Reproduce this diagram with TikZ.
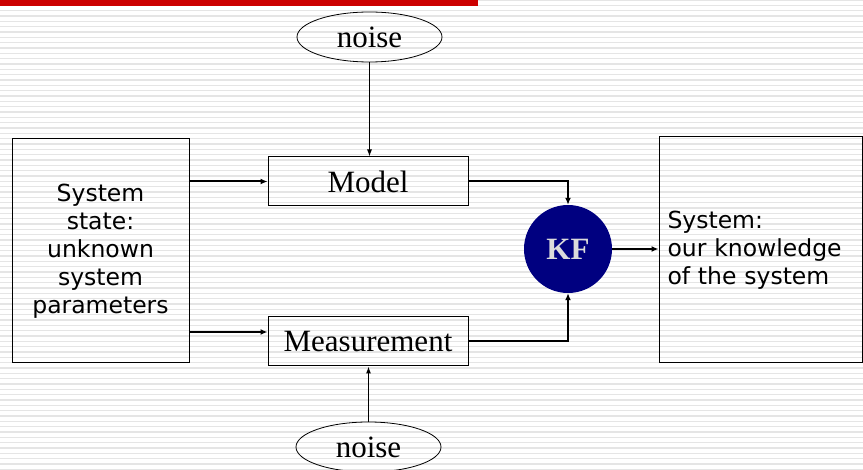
\documentclass[tikz,border=0pt]{standalone}
\usepackage{fontspec}
\setmainfont{Liberation Serif}
\newfontfamily\sansfont{DejaVu Sans}
\usetikzlibrary{arrows.meta,shapes.geometric,calc}
\definecolor{kf area}{RGB}{0,0,128}
\colorlet{stripe line}{black!10}
\colorlet{bar red}{red!80!black}
\tikzset{block/.style={draw=black, line width=1pt, minimum width=200pt, minimum height=49pt, inner sep=0pt, font=\fontsize{31}{37}\selectfont},
	bigbox/.style={draw=black, line width=1pt, inner sep=0pt, font=\sansfont\fontsize{23.5}{28}\selectfont},
	noisy/.style={draw=black, line width=0.8pt, ellipse, minimum width=145pt, minimum height=50pt, inner sep=0pt, font=\fontsize{31}{37}\selectfont},
	link/.style={line width=2pt, -{Latex[length=7pt,width=6pt]}},
	thinlink/.style={line width=1pt, -{Latex[length=7pt,width=5pt]}}}

\begin{document}
\begin{tikzpicture}[x=1pt,y=-1pt]
		\useasboundingbox (0,0) rectangle (863,470);
		\foreach \k in {0,...,88}
			\draw[stripe line, line width=1.4pt] (0,\k*5.333) -- (863,\k*5.333);
		\fill[bar red] (0,0) rectangle (478,6);
		
		\node[bigbox, minimum width=177pt, minimum height=224pt, align=center] (state) at (100.5,251) {System\\state:\\unknown\\system\\parameters};
		\node[block] (model) at (368,181.5) {Model};
		\node[block] (meas) at (368,341.5) {Measurement};
		\node[circle, fill=kf area, minimum size=88pt, inner sep=0pt, text=black!14, font=\fontsize{31}{37}\selectfont\bfseries] (kf) at (568,249) {KF};
		\node[bigbox, minimum width=203pt, minimum height=226pt, text width=186pt, align=left] (know) at (760.5,250) {System:\\our knowledge\\of the system};
		\node[noisy] (noise top) at (369.5,37) {noise};
		\node[noisy] (noise bot) at (368.5,447) {noise};
		
		\coordinate (meas in) at ($(meas.west)+(0,-9.5)$);
		\draw[link] (state.east |- model.west) -- (model.west);
		\draw[link] (state.east |- meas in) -- (meas in);
		\draw[link] (model.east) -| (kf.north);
		\draw[link] (meas.east) -| (kf.south);
		\draw[link] (kf.east) -- (kf.east -| know.west);
		\draw[thinlink] (noise top.south) -- (noise top.south |- model.north);
		\draw[thinlink] (noise bot.north) -- (noise bot.north |- meas.south);
		\end{tikzpicture}
\end{document}
